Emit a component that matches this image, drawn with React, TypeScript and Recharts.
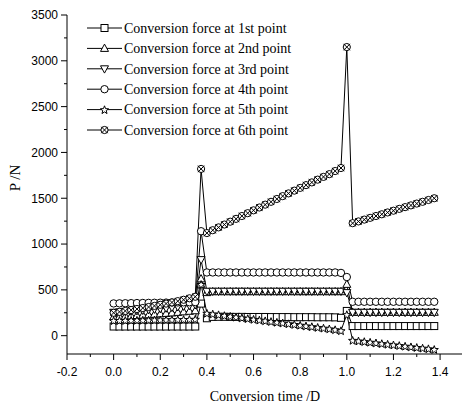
import React from 'react';
import { LineChart, Line, XAxis, YAxis } from 'recharts';

const xValues = [
  0, 0.025, 0.05, 0.075, 0.1, 0.125, 0.15, 0.175, 0.2, 0.225, 0.25, 0.275, 0.3, 0.325, 0.35,
  0.375,
  0.4, 0.425, 0.45, 0.475, 0.5, 0.525, 0.55, 0.575, 0.6, 0.625, 0.65, 0.675, 0.7, 0.725, 0.75, 0.775,
  0.8, 0.825, 0.85, 0.875, 0.9, 0.925, 0.95, 0.975,
  1.0,
  1.025, 1.05, 1.075, 1.1, 1.125, 1.15, 1.175, 1.2, 1.225, 1.25, 1.275, 1.3, 1.325, 1.35, 1.375,
];

const point1 = [
  100, 100, 100, 100, 100, 100, 100, 100, 100, 100, 100, 100, 100, 100, 100,
  350,
  190, 205, 206, 206, 205, 205, 205, 204, 204, 204, 204, 203, 203, 203, 203, 202, 202, 202, 202, 201, 201, 201, 200, 195,
  270,
  105, 105, 105, 105, 105, 105, 105, 105, 105, 105, 105, 105, 105, 105, 105,
];
const point2 = [
  205, 208, 212, 216, 220, 224, 228, 233, 238, 243, 248, 254, 260, 266, 272,
  620,
  470, 480, 480, 480, 480, 480, 480, 480, 480, 480, 480, 480, 480, 480, 480, 480, 480, 480, 480, 480, 480, 480, 480, 480,
  560,
  255, 255, 255, 255, 255, 255, 255, 255, 255, 255, 255, 255, 255, 255, 255,
];
const point3 = [
  255, 259, 264, 268, 273, 278, 284, 290, 296, 302, 309, 316, 323, 330, 338,
  830,
  485, 485, 485, 485, 485, 485, 485, 485, 485, 485, 485, 485, 485, 485, 485, 485, 485, 485, 485, 485, 485, 485, 485, 485,
  470,
  255, 255, 255, 255, 255, 255, 255, 255, 255, 255, 255, 255, 255, 255, 255,
];
const point4 = [
  352, 353, 354, 355, 356, 357, 358, 359, 360, 361, 362, 363, 364, 365, 366,
  1140,
  690, 690, 690, 690, 690, 690, 690, 690, 690, 690, 690, 690, 690, 690, 690, 690, 690, 690, 690, 690, 690, 690, 690, 685,
  640,
  370, 370, 370, 370, 370, 370, 370, 370, 370, 370, 370, 370, 370, 370, 370,
];
const point5 = [
  165, 166, 167, 168, 169, 170, 171, 172, 173, 174, 175, 176, 177, 178, 180,
  560,
  245, 237, 229, 220, 212, 203, 195, 187, 179, 171, 163, 155, 147, 139, 131, 123, 115, 107, 99, 91, 83, 75, 66, 55,
  230,
  -50, -57, -64, -71, -78, -86, -93, -100, -107, -114, -121, -128, -135, -142, -150,
];
const point6 = [
  250, 260, 270, 280, 291, 302, 313, 325, 337, 350, 363, 377, 392, 408, 425,
  1820,
  1120, 1151, 1182, 1213, 1244, 1275, 1306, 1337, 1368, 1399, 1430, 1461, 1492, 1523, 1553, 1583, 1613, 1643, 1673, 1703, 1733, 1763, 1797, 1830,
  3150,
  1228, 1247, 1267, 1286, 1306, 1325, 1345, 1364, 1384, 1403, 1422, 1442, 1461, 1481, 1500,
];

const seriesNames = [
  'Conversion force at 1st point',
  'Conversion force at 2nd point',
  'Conversion force at 3rd point',
  'Conversion force at 4th point',
  'Conversion force at 5th point',
  'Conversion force at 6th point',
];
const seriesKeys = ['p1', 'p2', 'p3', 'p4', 'p5', 'p6'];
const seriesMarkers = ['square', 'up', 'down', 'circle', 'star', 'xcircle'];
const seriesValues = [point1, point2, point3, point4, point5, point6];

const xTicks = [-0.2, -0.1, 0, 0.1, 0.2, 0.3, 0.4, 0.5, 0.6, 0.7, 0.8, 0.9, 1.0, 1.1, 1.2, 1.3, 1.4];
const yTicks = [0, 250, 500, 750, 1000, 1250, 1500, 1750, 2000, 2250, 2500, 2750, 3000, 3250, 3500];

const xAxisTitle = 'Conversion time /D';
const yAxisTitle = 'P /N';

const data = xValues.map((x, i) => {
  const row: Record<string, number> = { x };
  seriesKeys.forEach((k, s) => {
    row[k] = seriesValues[s][i];
  });
  return row;
});

const SERIF = '"Liberation Serif", "Times New Roman", serif';
const SANS = '"Liberation Sans", Arial, sans-serif';

function starPoints(cx: number, cy: number, ro: number, ri: number) {
  const pts: string[] = [];
  for (let i = 0; i < 10; i++) {
    const r = i % 2 === 0 ? ro : ri;
    const a = -Math.PI / 2 + (i * Math.PI) / 5;
    pts.push(`${(cx + r * Math.cos(a)).toFixed(2)},${(cy + r * Math.sin(a)).toFixed(2)}`);
  }
  return pts.join(' ');
}

function Marker({ kind, cx, cy }: { kind: string; cx: number; cy: number }) {
  const common = { fill: 'white', stroke: 'black', strokeWidth: 1 };
  switch (kind) {
    case 'square':
      return <rect x={cx - 3.5} y={cy - 3.5} width={7} height={7} {...common} />;
    case 'up':
      return <polygon points={`${cx},${cy - 4.3} ${cx + 4},${cy + 3} ${cx - 4},${cy + 3}`} {...common} />;
    case 'down':
      return <polygon points={`${cx},${cy + 4.3} ${cx + 4},${cy - 3} ${cx - 4},${cy - 3}`} {...common} />;
    case 'circle':
      return <circle cx={cx} cy={cy} r={3.7} {...common} />;
    case 'star':
      return <polygon points={starPoints(cx, cy + 0.5, 4.3, 1.8)} {...common} />;
    case 'xcircle':
      return (
        <g>
          <circle cx={cx} cy={cy} r={3.6} {...common} />
          <path d={`M${cx - 3.2},${cy - 3.2} L${cx + 3.2},${cy + 3.2} M${cx - 3.2},${cy + 3.2} L${cx + 3.2},${cy - 3.2}`} stroke="black" strokeWidth={1} fill="none" />
        </g>
      );
    default:
      return null;
  }
}

function XTick(props: any) {
  const { x, y, payload } = props;
  const v = payload.value as number;
  const major = Math.round(v * 10) % 2 === 0;
  return (
    <g>
      <line x1={x} y1={y} x2={x} y2={y + (major ? 6 : 3)} stroke="black" strokeWidth={1} />
      {major && (
        <text x={x} y={y + 22} textAnchor="middle" fontFamily={SANS} fontSize={12} fill="black">
          {v.toFixed(1)}
        </text>
      )}
    </g>
  );
}

function YTick(props: any) {
  const { x, y, payload } = props;
  const v = payload.value as number;
  const major = v % 500 === 0;
  return (
    <g>
      <line x1={x} y1={y} x2={x - (major ? 6 : 3)} y2={y} stroke="black" strokeWidth={1} />
      {major && (
        <text x={x - 9} y={y + 4.3} textAnchor="end" fontFamily={SANS} fontSize={12} fill="black">
          {String(v)}
        </text>
      )}
    </g>
  );
}

export default function App() {
  return (
    <div style={{ position: 'absolute', left: 0, top: 0, width: 462, height: 407, background: 'white' }}>
      <LineChart width={462} height={407} data={data} margin={{ top: 15, right: 0, bottom: 52, left: 66 }}>
        <XAxis
          dataKey="x"
          type="number"
          domain={[-0.2, 1.494]}
          ticks={xTicks}
          interval={0}
          height={1}
          tickSize={0}
          tickMargin={0}
          tickLine={false}
          axisLine={{ stroke: 'black', strokeWidth: 1 }}
          tick={<XTick />}
        />
        <YAxis
          type="number"
          domain={[-200, 3500]}
          ticks={yTicks}
          interval={0}
          width={1}
          tickSize={0}
          tickMargin={0}
          tickLine={false}
          axisLine={{ stroke: 'black', strokeWidth: 1 }}
          tick={<YTick />}
        />
        {seriesKeys.map((k, s) => (
          <Line
            key={k}
            dataKey={k}
            name={seriesNames[s]}
            type="linear"
            stroke="black"
            strokeWidth={1}
            isAnimationActive={false}
            dot={(p: any) =>
              p.cx == null || p.cy == null ? (
                <g key={`${k}-${p.index}`} />
              ) : (
                <g key={`${k}-${p.index}`}>
                  <Marker kind={seriesMarkers[s]} cx={p.cx} cy={p.cy} />
                </g>
              )
            }
            activeDot={false}
          />
        ))}
      </LineChart>
      <svg
        width={462}
        height={407}
        style={{ position: 'absolute', left: 0, top: 0, pointerEvents: 'none' }}
      >
        {seriesNames.map((name, i) => {
          const cy = 28 + i * 20.4;
          return (
            <g key={name}>
              <line x1={87} y1={cy} x2={122} y2={cy} stroke="black" strokeWidth={1} />
              <Marker kind={seriesMarkers[i]} cx={104.5} cy={cy} />
              <text x={124} y={cy + 4.8} fontFamily={SERIF} fontSize={14} fill="black">
                {name}
              </text>
            </g>
          );
        })}
        <text x={265} y={401} textAnchor="middle" fontFamily={SERIF} fontSize={14} fill="black">
          {xAxisTitle}
        </text>
        <text
          x={20}
          y={178}
          textAnchor="middle"
          fontFamily={SERIF}
          fontSize={15}
          fill="black"
          transform="rotate(-90 20 178)"
        >
          {yAxisTitle}
        </text>
      </svg>
    </div>
  );
}
